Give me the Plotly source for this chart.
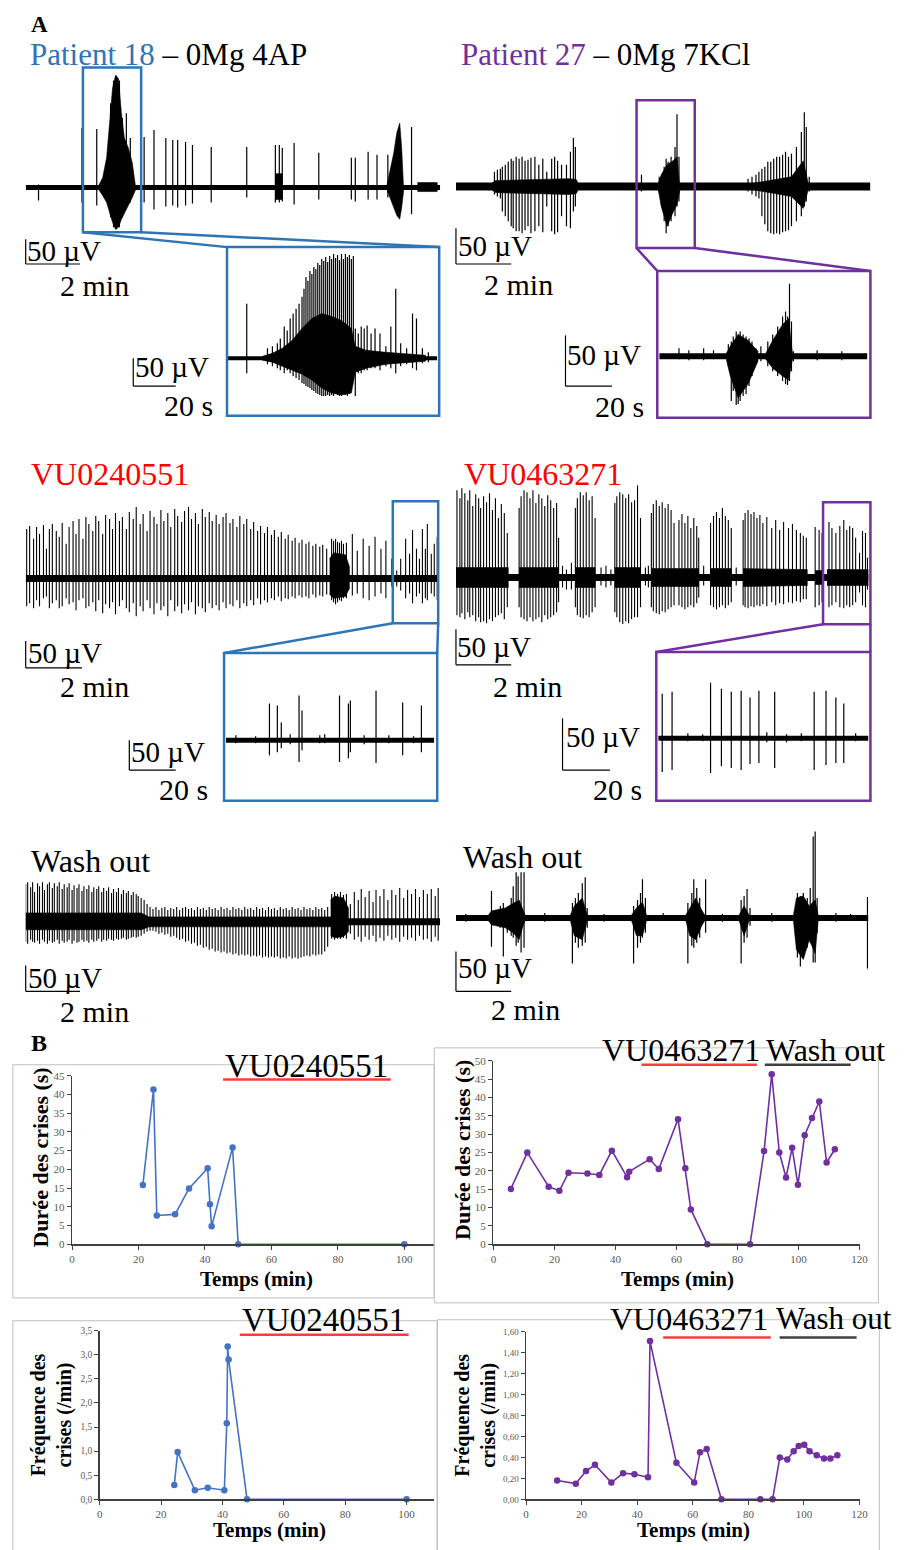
import plotly.graph_objects as go

FIG_W, FIG_H = 911, 1550
SERIF = "Liberation Serif"
BLUE = "#2E75B6"
PURPLE = "#7030A0"
RED = "#FF0000"
LINE_BLUE = "#4472C4"
AX_COL = "#404040"

# ---------------- Panel B data ----------------
DUR_L_T = [21.3, 24.5, 25.5, 31.0, 35.2, 40.8, 41.5, 42.0, 48.3, 50.0, 100.0]
DUR_L_S = [15.8, 41.3, 7.7, 8.0, 14.9, 20.3, 10.7, 4.8, 25.8, 0.0, 0.0]

DUR_R_T = [5.7, 11.1, 18.1, 21.6, 24.6, 30.8, 34.7, 38.8, 43.8, 44.5, 51.2, 54.2, 60.5, 62.9,
           64.7, 70.1, 84.1, 88.7, 91.2, 93.7, 95.9, 97.9, 99.8, 102.0, 104.4, 106.8, 109.2, 111.9]
DUR_R_S = [15.1, 25.0, 15.7, 14.6, 19.5, 19.3, 18.9, 25.5, 18.3, 19.8, 23.2, 20.5, 34.1, 20.7,
           9.5, 0.0, 0.0, 25.4, 46.3, 25.0, 18.2, 26.3, 16.2, 29.7, 34.4, 38.9, 22.3, 25.9]

FRQ_L_T = [24.3, 25.4, 31.0, 35.2, 40.6, 41.4, 41.7, 42.0, 48.0, 100.0]
FRQ_L_F = [0.30, 0.98, 0.19, 0.24, 0.19, 1.58, 3.17, 2.90, 0.0, 0.0]

FRQ_R_T = [11.2, 17.9, 21.6, 24.8, 30.7, 34.9, 39.0, 43.9, 44.6, 54.1, 60.5, 62.6, 65.0, 70.3,
           84.3, 88.7, 91.3, 94.0, 96.3, 98.1, 100.1, 102.0, 104.6, 107.2, 109.5, 112.0]
FRQ_R_F = [0.18, 0.15, 0.27, 0.33, 0.16, 0.25, 0.24, 0.21, 1.51, 0.35, 0.16, 0.45, 0.48, 0.0,
           0.0, 0.0, 0.40, 0.38, 0.46, 0.51, 0.52, 0.46, 0.42, 0.39, 0.39, 0.42]

# ---------------- Panel A traces: spikes (t, up, down) and dense envelopes ----------------
P18_MAIN = [(13, 3, 13), (57, 60, 15), (72, 59, 18), (86, 85, 30), (89, 108, 40), (92, 113, 42),
            (95, 108, 40), (98, 70, 30), (102, 75, 20), (106, 50, 15), (120, 51, 15),
            (130, 58, 22), (142, 50, 19), (149, 48, 18), (154, 48, 20), (162, 46, 18), (169, 43, 16),
            (188, 41, 15), (224, 41, 10), (253, 43, 15), (257, 43, 15), (260, 40, 14), (272, 45, 17),
            (297, 35, 12), (330, 30, 12), (334, 30, 14), (347, 36, 12), (356, 33, 12), (367, 33, 10),
            (391, 61, 27)]
P18_MAIN_ENV = [
    [(74, 2, 2), (78, 10, 8), (82, 30, 15), (85, 70, 25), (88, 100, 35), (91, 113, 42), (94, 110, 40),
     (97, 75, 32), (100, 50, 25), (104, 40, 18), (108, 25, 10), (111, 3, 3)],
    [(253, 14, 12), (260, 14, 12)],
    [(366, 2, 2), (370, 20, 12), (373, 35, 20), (376, 55, 28), (379, 65, 32), (381, 40, 20), (383, 3, 3)],
    [(397, 5, 4), (417, 5, 4)],
]
P18_ZOOM = [(19, 55, 15), (40, 10, 6), (45, 12, 8), (50, 15, 10), (53, 20, 12), (57, 32, 15), (60, 28, 12),
            (63, 40, 15), (66, 45, 18), (69, 50, 20), (72, 55, 22), (75, 62, 25), (77, 70, 26), (79, 82, 28),
            (81, 78, 29), (83, 88, 30), (85, 85, 32), (87, 92, 33), (89, 90, 35), (91, 96, 36), (93, 94, 37),
            (95, 100, 38), (97, 98, 38), (99, 102, 38), (101, 97, 37), (103, 103, 38), (105, 100, 37),
            (107, 105, 38), (109, 101, 36), (111, 104, 37), (113, 99, 38), (115, 105, 38), (117, 100, 36),
            (119, 105, 37), (121, 102, 38), (123, 104, 36), (125, 100, 30), (127, 103, 20), (129, 30, 38),
            (132, 25, 15), (135, 32, 15), (138, 30, 12), (141, 33, 12), (145, 25, 10), (149, 30, 10),
            (154, 25, 12), (160, 12, 8), (165, 32, 10), (170, 70, 15), (175, 15, 8), (181, 10, 6),
            (187, 45, 10), (191, 40, 12), (197, 10, 5), (203, 6, 4)]
P18_ZOOM_ENV = [[(35, 2, 2), (45, 5, 4), (55, 10, 8), (65, 18, 12), (75, 30, 16), (85, 40, 22),
                 (95, 45, 30), (105, 42, 35), (115, 38, 37), (125, 30, 35), (129, 12, 14), (140, 8, 10),
                 (160, 6, 6), (200, 3, 3)]]

P27_MAIN = [(39, 15, 8), (42, 17, 10), (45, 18, 12), (47, 20, 25), (50, 22, 30), (53, 25, 35), (56, 28, 40),
            (58, 26, 42), (61, 30, 45), (64, 28, 45), (67, 30, 47), (70, 26, 44), (73, 27, 40), (76, 29, 47),
            (80, 30, 45), (84, 22, 40), (88, 28, 46), (92, 15, 20), (97, 28, 45), (100, 30, 48),
            (103, 26, 46), (107, 22, 30), (112, 22, 40), (116, 35, 42), (119, 49, 25), (121, 40, 20),
            (188, 12, 5), (206, 10, 6), (211, 20, 35), (213, 28, 47), (215, 25, 40), (218, 30, 35),
            (222, 40, 30), (224, 73, 20), (226, 30, 15),
            (296, 8, 5), (300, 10, 8), (304, 12, 10), (307, 15, 12), (310, 18, 30), (313, 20, 38),
            (316, 25, 45), (319, 25, 47), (322, 28, 48), (325, 30, 47), (328, 30, 48), (331, 32, 46),
            (334, 35, 45), (337, 30, 44), (340, 33, 40), (345, 40, 35), (350, 55, 30), (353, 75, 20),
            (355, 60, 15), (358, 10, 5)]
P27_MAIN_ENV = [
    [(36, 3, 3), (40, 6, 6), (115, 8, 8), (122, 7, 7), (124, 3, 3)],
    [(205, 3, 3), (208, 12, 20), (214, 22, 40), (220, 26, 26), (224, 30, 18), (227, 3, 3)],
    [(300, 3, 3), (340, 10, 10), (352, 26, 22), (357, 3, 3)],
]
P27_ZOOM = [(20, 8, 3), (30, 6, 4), (45, 8, 4), (55, 6, 3), (70, 12, 10), (73, 15, 45), (75, 20, 35),
            (78, 25, 49), (80, 22, 48), (82, 25, 45), (85, 22, 40), (88, 20, 38), (91, 18, 30), (94, 15, 20),
            (98, 8, 8), (103, 10, 5), (110, 15, 10), (115, 22, 15), (120, 30, 20), (125, 40, 25),
            (128, 45, 28), (130, 40, 29), (132, 73, 25), (134, 35, 15), (136, 5, 5), (160, 6, 4), (185, 5, 4)]
P27_ZOOM_ENV = [[(68, 3, 3), (72, 10, 20), (80, 22, 42), (90, 16, 28), (100, 5, 5)],
                [(108, 3, 3), (115, 16, 12), (125, 32, 20), (131, 38, 24), (135, 3, 3)]]

VU1_MAIN = [(1, 50, 28), (4, 53, 25), (8, 40, 30), (11, 52, 22), (14, 45, 28), (18, 54, 20), (21, 30, 18),
            (24, 50, 30), (27, 55, 25), (31, 48, 22), (34, 42, 30), (37, 56, 28), (41, 35, 20), (44, 52, 26),
            (48, 58, 24), (51, 45, 32), (54, 60, 22), (58, 40, 20), (61, 62, 30), (64, 55, 28), (68, 48, 24),
            (71, 63, 33), (74, 58, 22), (78, 45, 35), (81, 64, 26), (85, 60, 30), (88, 50, 24), (91, 66, 36),
            (95, 58, 28), (98, 62, 22), (102, 50, 30), (105, 67, 34), (109, 60, 25), (112, 72, 38),
            (116, 55, 28), (119, 65, 33), (123, 48, 22), (126, 68, 30), (130, 62, 36), (133, 55, 25),
            (137, 69, 32), (140, 58, 28), (144, 66, 38), (147, 52, 22), (151, 70, 33), (154, 63, 28),
            (158, 57, 35), (161, 68, 26), (165, 72, 32), (168, 60, 24), (172, 66, 36), (175, 55, 28),
            (179, 70, 30), (182, 62, 34), (186, 67, 25), (189, 58, 30), (193, 64, 27), (196, 55, 32),
            (200, 62, 24), (203, 66, 30), (207, 56, 26), (210, 60, 28), (214, 52, 22), (217, 63, 30),
            (221, 55, 25), (224, 60, 28), (228, 50, 22), (231, 57, 27), (235, 48, 20), (238, 53, 26),
            (242, 46, 22), (245, 52, 24), (249, 44, 20), (252, 49, 22), (256, 42, 18), (259, 47, 23),
            (263, 40, 20), (266, 44, 21), (270, 38, 18), (273, 41, 20), (277, 36, 17), (280, 39, 19),
            (284, 35, 18), (287, 37, 20), (291, 33, 16), (294, 35, 19), (298, 32, 17), (301, 34, 18),
            (305, 30, 16), (310, 40, 22), (312, 38, 24), (314, 40, 26), (316, 37, 24), (318, 36, 22),
            (320, 38, 23), (322, 35, 20), (325, 36, 20), (331, 45, 17), (336, 28, 15), (342, 40, 20),
            (348, 33, 22), (354, 42, 18), (360, 30, 15), (365, 38, 20), (371, 20, 8),
            (376, 8, 8), (380, 20, 12), (385, 40, 20), (389, 25, 15), (392, 49, 25), (396, 30, 18),
            (399, 20, 15), (402, 50, 25), (405, 30, 20), (407, 55, 22), (411, 25, 15), (414, 35, 18),
            (417, 42, 22)]
VU1_MAIN_ENV = [[(308, 20, 16), (312, 26, 20), (324, 24, 18), (328, 12, 10)]]
VU1_ZOOM = [(10, 5, 3), (30, 4, 3), (44, 37, 15), (52, 35, 12), (56, 18, 8), (65, 6, 4), (74, 45, 22),
            (77, 30, 10), (95, 5, 3), (100, 6, 3), (115, 45, 22), (124, 37, 18), (126, 40, 12),
            (140, 5, 4), (152, 50, 23), (165, 5, 3), (179, 38, 15), (190, 4, 3), (198, 35, 12)]
VU1_ZOOM_ENV = []

VU2_MAIN = [(1, 88, 38), (4, 80, 40), (6, 90, 36), (9, 85, 42), (12, 78, 35), (14, 88, 40), (17, 72, 38),
            (20, 84, 44), (23, 80, 40), (25, 70, 45), (28, 82, 44), (31, 76, 46), (34, 85, 42), (37, 68, 44),
            (40, 80, 40), (43, 60, 38), (46, 74, 36), (49, 65, 42), (52, 45, 30),
            (64, 70, 30), (66, 82, 40), (69, 88, 42), (72, 86, 44), (75, 80, 40), (78, 88, 44), (81, 75, 42),
            (84, 84, 40), (87, 80, 45), (90, 72, 38), (93, 83, 42), (96, 78, 40), (99, 70, 38),
            (102, 75, 35), (104, 40, 25), (108, 12, 10), (112, 8, 12), (117, 15, 12),
            (121, 70, 30), (123, 80, 38), (126, 86, 40), (129, 83, 41), (132, 86, 38), (135, 78, 40),
            (138, 82, 35), (141, 60, 30), (147, 10, 8), (152, 12, 10), (157, 8, 8),
            (161, 75, 35), (163, 82, 40), (166, 86, 45), (169, 84, 47), (172, 80, 44), (175, 84, 46),
            (178, 76, 42), (181, 78, 40), (184, 93, 40), (187, 60, 30), (192, 10, 8), (195, 12, 10),
            (198, 65, 30), (200, 74, 34), (203, 78, 36), (206, 72, 37), (209, 76, 34), (212, 70, 35),
            (215, 74, 32), (218, 68, 30), (221, 55, 28), (226, 58, 28), (229, 64, 30), (232, 55, 32),
            (235, 62, 30), (238, 50, 28), (241, 60, 30), (244, 52, 26), (246, 40, 20), (251, 12, 8),
            (258, 55, 28), (261, 62, 30), (264, 66, 32), (267, 60, 30), (270, 70, 28), (273, 62, 31),
            (276, 58, 28), (279, 50, 25), (284, 10, 8),
            (291, 58, 28), (293, 65, 30), (296, 68, 31), (299, 64, 29), (302, 66, 30), (305, 60, 28),
            (308, 63, 29), (311, 55, 27), (315, 61, 29), (320, 50, 25), (324, 58, 28), (328, 48, 26),
            (332, 56, 27), (337, 50, 25), (341, 54, 26), (345, 48, 24), (349, 45, 25), (352, 42, 22),
            (355, 40, 22), (364, 51, 30), (368, 48, 28), (371, 45, 25),
            (378, 56, 30), (381, 50, 28), (385, 45, 25), (389, 52, 30), (393, 58, 31), (396, 48, 28),
            (399, 52, 30), (402, 50, 28), (405, 40, 25), (409, 25, 15), (412, 47, 28), (415, 45, 30),
            (417, 20, 12)]
VU2_MAIN_ENV = [[(0, 10, 10), (53, 10, 10)], [(64, 10, 10), (104, 10, 10)], [(121, 10, 10), (141, 10, 10)],
                [(161, 10, 10), (187, 10, 10)], [(198, 9, 9), (246, 9, 9)], [(258, 9, 9), (279, 9, 9)],
                [(291, 9, 9), (356, 8, 8)], [(364, 7, 7), (371, 7, 7)], [(376, 8, 8), (418, 8, 8)]]
VU2_ZOOM = [(4, 45, 34), (14, 47, 32), (30, 5, 3), (45, 4, 3), (53, 56, 35), (64, 50, 28), (74, 47, 30),
            (84, 48, 32), (93, 41, 26), (102, 48, 25), (110, 6, 4), (118, 47, 30), (130, 4, 4),
            (145, 5, 3), (158, 47, 32), (170, 48, 27), (180, 41, 25), (188, 35, 25), (200, 5, 3)]
VU2_ZOOM_ENV = []

WASH1_MAIN = [(0, 38, 20), (2, 40, 22), (5, 35, 18), (7, 40, 20), (9, 30, 21), (12, 39, 19), (14, 36, 22),
              (17, 40, 18), (19, 32, 20), (22, 38, 22), (24, 40, 19), (27, 34, 21), (29, 39, 20), (32, 36, 18),
              (34, 40, 22), (37, 33, 19), (39, 38, 21), (42, 35, 20), (44, 39, 18), (47, 32, 22), (49, 37, 19),
              (52, 34, 21), (54, 38, 20), (57, 31, 18), (59, 36, 20), (62, 33, 19), (64, 37, 21), (67, 30, 18),
              (69, 35, 20), (72, 33, 19), (74, 36, 17), (77, 30, 20), (79, 34, 18), (82, 31, 19), (84, 35, 17),
              (87, 29, 18), (89, 33, 19), (92, 30, 17), (94, 34, 18), (97, 28, 17), (99, 32, 16), (102, 29, 18),
              (104, 31, 17), (107, 27, 16), (109, 30, 15), (112, 28, 16), (114, 26, 15), (117, 24, 14),
              (120, 22, 12), (123, 18, 10), (126, 15, 9), (129, 13, 9), (132, 15, 10), (135, 12, 12),
              (138, 14, 11), (141, 15, 13), (144, 12, 12), (147, 14, 15), (150, 13, 14), (153, 15, 16),
              (156, 12, 18), (159, 14, 17), (162, 15, 20), (165, 13, 19), (168, 14, 22), (171, 12, 21),
              (174, 15, 24), (177, 13, 23), (180, 14, 26), (183, 12, 25), (186, 15, 28), (189, 13, 27),
              (192, 14, 30), (195, 12, 29), (198, 15, 31), (201, 13, 30), (204, 14, 32), (207, 12, 31),
              (210, 15, 33), (213, 13, 32), (216, 14, 34), (219, 12, 33), (222, 15, 34), (225, 13, 33),
              (228, 14, 35), (231, 12, 34), (234, 15, 35), (237, 13, 34), (240, 14, 36), (243, 12, 35),
              (246, 15, 36), (249, 13, 35), (252, 14, 36), (255, 12, 35), (258, 15, 37), (261, 13, 36),
              (264, 14, 37), (267, 12, 35), (270, 15, 37), (273, 13, 36), (276, 14, 37), (279, 12, 36),
              (282, 15, 35), (285, 13, 34), (288, 14, 35), (291, 12, 33), (294, 15, 34), (297, 13, 33),
              (300, 14, 33), (303, 12, 30), (306, 15, 25), (310, 28, 17), (313, 30, 18), (316, 28, 17),
              (319, 30, 17), (322, 27, 16), (325, 28, 17), (329, 18, 12), (333, 30, 18), (337, 22, 15),
              (340, 33, 20), (344, 25, 15), (348, 31, 18), (352, 20, 14), (355, 32, 20), (359, 26, 16),
              (363, 33, 19), (367, 22, 14), (371, 32, 18), (375, 27, 16), (379, 34, 20), (383, 24, 15),
              (387, 32, 18), (391, 28, 16), (395, 33, 19), (399, 25, 14), (403, 32, 18), (407, 28, 17),
              (411, 33, 20), (415, 26, 15), (418, 34, 19)]
WASH1_MAIN_ENV = [[(0, 9, 8), (117, 9, 8), (125, 5, 5), (310, 5, 5)],
                  [(309, 22, 14), (313, 26, 16), (322, 24, 15), (327, 14, 10)]]

WASH2_MAIN = [(10, 4, 4), (36, 27, 29), (40, 8, 6), (45, 12, 10), (48, 15, 39), (52, 10, 15), (56, 20, 18),
              (58, 32, 20), (61, 46, 28), (63, 42, 25), (66, 46, 35), (69, 46, 30), (90, 5, 4),
              (118, 15, 46), (121, 20, 25), (124, 25, 30), (128, 35, 28), (131, 41, 25), (133, 10, 10),
              (150, 4, 4), (180, 12, 46), (184, 18, 30), (187, 25, 25), (189, 39, 20), (192, 20, 15),
              (210, 5, 3), (235, 15, 46), (239, 25, 28), (241, 39, 30), (244, 30, 25), (247, 20, 20),
              (253, 39, 15), (270, 4, 4), (289, 18, 46), (292, 22, 25), (295, 29, 20), (298, 10, 8),
              (320, 5, 4), (346, 25, 40), (349, 22, 49), (352, 25, 40), (356, 20, 30), (359, 30, 25),
              (362, 82, 45), (364, 87, 45), (366, 20, 15), (385, 5, 4), (400, 4, 3), (417, 21, 51)]
WASH2_MAIN_ENV = [[(33, 3, 3), (36, 7, 7), (50, 10, 10), (58, 15, 15), (64, 18, 22), (68, 8, 8), (70, 3, 3)],
                  [(116, 3, 3), (120, 12, 18), (128, 20, 22), (133, 3, 3)],
                  [(178, 3, 3), (183, 10, 18), (189, 16, 18), (193, 3, 3)],
                  [(233, 3, 3), (237, 10, 18), (243, 20, 22), (249, 8, 8), (252, 3, 3)],
                  [(287, 3, 3), (292, 12, 18), (297, 3, 3)],
                  [(342, 3, 3), (345, 20, 32), (352, 22, 42), (358, 12, 22), (364, 18, 36), (367, 3, 3)]]

# ---------------- figure construction ----------------
fig = go.Figure()
axes_layout = {}
_n = [0]


def px(x):
    return x / FIG_W


def py(y):
    return 1 - y / FIG_H


def new_axes(x0, x1, ytop, ybot, xr, yr):
    _n[0] += 1
    s = "" if _n[0] == 1 else str(_n[0])
    xa = dict(domain=[px(x0), px(x1)], range=xr, anchor="y" + s, fixedrange=True,
              showgrid=False, zeroline=False)
    ya = dict(domain=[py(ybot), py(ytop)], range=yr, anchor="x" + s, fixedrange=True,
              showgrid=False, zeroline=False)
    axes_layout["xaxis" + s] = xa
    axes_layout["yaxis" + s] = ya
    return "x" + s, "y" + s, xa, ya


def eeg(spikes, envs, x0, width, base, up, dn, base_w, lw=1.2):
    xr, yr, xa, ya = new_axes(x0, x0 + width, base - up, base + dn, [0, width], [-dn, up])
    xa["visible"] = False
    ya["visible"] = False
    for env in envs:
        ex = [p[0] for p in env] + [p[0] for p in reversed(env)]
        ey = [p[1] for p in env] + [-p[2] for p in reversed(env)]
        fig.add_trace(go.Scatter(x=ex, y=ey, fill="toself", fillcolor="black", mode="lines",
                                 line=dict(color="black", width=0.6), xaxis=xr, yaxis=yr,
                                 hoverinfo="skip", showlegend=False))
    fig.add_trace(go.Scatter(x=[0, width], y=[0, 0], mode="lines", line=dict(color="black", width=base_w),
                             xaxis=xr, yaxis=yr, hoverinfo="skip", showlegend=False))
    sx, sy = [], []
    for t, u, d in spikes:
        sx += [t, t, None]
        sy += [u, -d, None]
    fig.add_trace(go.Scatter(x=sx, y=sy, mode="lines", line=dict(color="black", width=lw),
                             xaxis=xr, yaxis=yr, hoverinfo="skip", showlegend=False))


eeg(P18_MAIN, P18_MAIN_ENV, 23, 420, 183, 115, 45, 5)
eeg(P18_ZOOM, P18_ZOOM_ENV, 228, 212, 355, 108, 42, 4)
eeg(P27_MAIN, P27_MAIN_ENV, 459, 420, 182, 78, 50, 8)
eeg(P27_ZOOM, P27_ZOOM_ENV, 665, 211, 353, 78, 52, 6)
eeg(VU1_MAIN, VU1_MAIN_ENV, 23, 418, 577, 75, 40, 7, 1.1)
eeg(VU1_ZOOM, VU1_ZOOM_ENV, 226, 211, 740, 52, 25, 5)
eeg(VU2_MAIN, VU2_MAIN_ENV, 459, 418, 576, 93, 47, 7, 1.1)
eeg(VU2_ZOOM, VU2_ZOOM_ENV, 664, 213, 738, 58, 38, 5)
eeg(WASH1_MAIN, WASH1_MAIN_ENV, 23, 420, 923, 42, 38, 7, 1.1)
eeg(WASH2_MAIN, WASH2_MAIN_ENV, 459, 418, 919, 88, 52, 6)


# ---------------- Panel B charts ----------------
def chart(xs, ys, color, x0, x1, ytop, ybot, xmax, ymax, ydtick, yfmt, ysize):
    xr, yr, xa, ya = new_axes(x0, x1, ytop, ybot, [0, xmax], [0, ymax])
    xticks = [0, 20, 40, 60, 80, 100] if xmax < 115 else [0, 20, 40, 60, 80, 100, 120]
    xa.update(showline=True, linecolor=AX_COL, linewidth=1.5, ticks="outside", ticklen=4,
              tickcolor=AX_COL, tickwidth=1, tickvals=xticks,
              tickfont=dict(family=SERIF, size=11, color="#595959"))
    ya.update(showline=True, linecolor=AX_COL, linewidth=1.5, ticks="outside", ticklen=4,
              tickcolor=AX_COL, tickwidth=1, dtick=ydtick, tick0=0, tickformat=yfmt,
              tickfont=dict(family=SERIF, size=ysize, color="#595959"))
    fig.add_trace(go.Scatter(x=xs, y=ys, mode="lines+markers", line=dict(color=color, width=1.6),
                             marker=dict(color=color, size=6.5), cliponaxis=False,
                             xaxis=xr, yaxis=yr, showlegend=False))


chart(DUR_L_T, DUR_L_S, LINE_BLUE, 70, 437, 1078, 1248, 109, 45, 5, "d", 11)
chart(DUR_R_T, DUR_R_S, PURPLE, 497, 868, 1063, 1248, 120, 50, 5, "d", 11)
chart(FRQ_L_T, FRQ_L_F, LINE_BLUE, 98, 437, 1335, 1505, 109, 3.5, 0.5, ".1f", 9.5)
chart(FRQ_R_T, FRQ_R_F, PURPLE, 530, 868, 1336, 1505, 120, 1.6, 0.2, ".2f", 9)

# ---------------- shapes ----------------
shapes = []


def line(x0, y0, x1, y1, color="black", w=1.0):
    shapes.append(dict(type="line", xref="paper", yref="paper", x0=px(x0), y0=py(y0), x1=px(x1), y1=py(y1),
                       line=dict(color=color, width=w)))


def rect(x0, y0, x1, y1, color, w):
    shapes.append(dict(type="rect", xref="paper", yref="paper", x0=px(x0), y0=py(y0), x1=px(x1), y1=py(y1),
                       line=dict(color=color, width=w), fillcolor="rgba(0,0,0,0)"))


# zoom boxes and connectors
rect(81, 62, 140, 228, BLUE, 2.5)
line(81, 228, 227, 243, BLUE, 2.5)
line(140, 228, 442, 243, BLUE, 2.5)
rect(227, 243, 442, 413, BLUE, 2.5)

rect(642, 95, 701, 244, PURPLE, 2.5)
line(642, 244, 663, 267, PURPLE, 2.5)
line(701, 244, 879, 267, PURPLE, 2.5)
rect(663, 267, 879, 415, PURPLE, 2.5)

rect(395, 499, 441, 622, BLUE, 2.5)
line(395, 622, 224, 652, BLUE, 2.5)
line(441, 622, 440, 652, BLUE, 2.5)
rect(224, 652, 440, 801, BLUE, 2.5)

rect(831, 500, 879, 623, PURPLE, 2.5)
line(831, 623, 662, 651, PURPLE, 2.5)
line(879, 623, 879, 651, PURPLE, 2.5)
rect(662, 651, 879, 801, PURPLE, 2.5)

# scale bars (vertical x, y_top, y_bottom, horizontal end)
for vx, vt, vb, hx in [(23, 235, 260, 78), (132, 355, 383, 175), (459, 224, 260, 515), (570, 332, 383, 617),
                       (23, 640, 667, 80), (128, 740, 770, 175), (459, 628, 664, 515), (567, 718, 770, 615),
                       (23, 967, 993, 78), (459, 953, 993, 515)]:
    line(vx, vt, vx, vb, "black", 1.2)
    line(vx, vb, hx, vb, "black", 1.2)

# chart frames
FRAME = "#BFBFBF"
rect(10, 1067, 437, 1302, FRAME, 1)
rect(437, 1050, 887, 1307, FRAME, 1)
rect(10, 1325, 440, 1580, FRAME, 1)
rect(440, 1324, 888, 1580, FRAME, 1)

# underlines of treatment labels
line(223, 1082, 393, 1082, "#FF3B3B", 2.5)
line(647, 1067, 764, 1067, "#FF3B3B", 2.5)
line(772, 1067, 859, 1067, "#404040", 2.5)
line(240, 1339, 411, 1339, "#FF3B3B", 2.5)
line(669, 1342, 778, 1342, "#FF3B3B", 2.5)
line(787, 1342, 865, 1342, "#404040", 2.5)

# ---------------- text ----------------
ann = []


def text(x, y, s, size=30, color="black", anchor="left", angle=0, bold=False):
    if bold:
        s = "<b>" + s + "</b>"
    ann.append(dict(x=px(x), y=py(y), xref="paper", yref="paper", text=s, showarrow=False,
                    xanchor=anchor, yanchor="middle", textangle=angle, borderpad=0,
                    font=dict(family=SERIF, size=size, color=color)))


text(27, 19, "A", 23, bold=True)
text(26, 49, '<span style="color:%s">Patient 18</span> – 0Mg 4AP' % BLUE, 31)
text(463, 49, '<span style="color:%s">Patient 27</span> – 0Mg 7KCl' % PURPLE, 31)

UV = "50 µV"
for x, y in [(23, 247), (133, 364), (460, 242), (571, 352), (24, 652), (129, 752), (459, 646),
             (569, 737), (24, 980), (460, 970)]:
    text(x, y, UV, 29)
for x, y, s in [(57, 282, "2 min"), (162, 403, "20 s"), (486, 281, "2 min"), (599, 404, "20 s"),
                (57, 686, "2 min"), (157, 790, "20 s"), (496, 686, "2 min"), (597, 790, "20 s"),
                (57, 1013, "2 min"), (494, 1011, "2 min")]:
    text(x, y, s, 30)

text(27, 472, "VU0240551", 32, RED)
text(466, 472, "VU0463271", 32, RED)
text(27, 862, "Wash out", 32)
text(465, 858, "Wash out", 32)

text(27, 1045, "B", 24, bold=True)
text(224, 1068, "VU0240551", 33)
text(606, 1052, "VU0463271", 32)
text(772, 1052, "Wash out", 32)
text(241, 1324, "VU0240551", 33)
text(614, 1323, "VU0463271", 32)
text(782, 1323, "Wash out", 31)

text(37, 1161, "Durée des crises (s)", 22, anchor="center", angle=-90, bold=True)
text(465, 1153, "Durée des crises (s)", 22, anchor="center", angle=-90, bold=True)
text(49, 1420, "Fréquence des<br>crises (/min)", 20, anchor="center", angle=-90, bold=True)
text(478, 1420, "Fréquence des<br>crises (/min)", 20, anchor="center", angle=-90, bold=True)
text(257, 1283, "Temps (min)", 21, anchor="center", bold=True)
text(683, 1283, "Temps (min)", 21, anchor="center", bold=True)
text(270, 1536, "Temps (min)", 21, anchor="center", bold=True)
text(700, 1536, "Temps (min)", 21, anchor="center", bold=True)

fig.update_layout(width=FIG_W, height=FIG_H, margin=dict(l=0, r=0, t=0, b=0), autosize=False,
                  paper_bgcolor="white", plot_bgcolor="rgba(0,0,0,0)", showlegend=False,
                  separators=", ", shapes=shapes, annotations=ann,
                  font=dict(family=SERIF), **axes_layout)
# place the figure flush with the page corner so the 911x1550 window shows it exactly
fig.write_html("out.html", config={"staticPlot": True, "displayModeBar": False},
               post_script="document.body.style.margin='0px';"
                           "document.documentElement.style.overflow='hidden';")
